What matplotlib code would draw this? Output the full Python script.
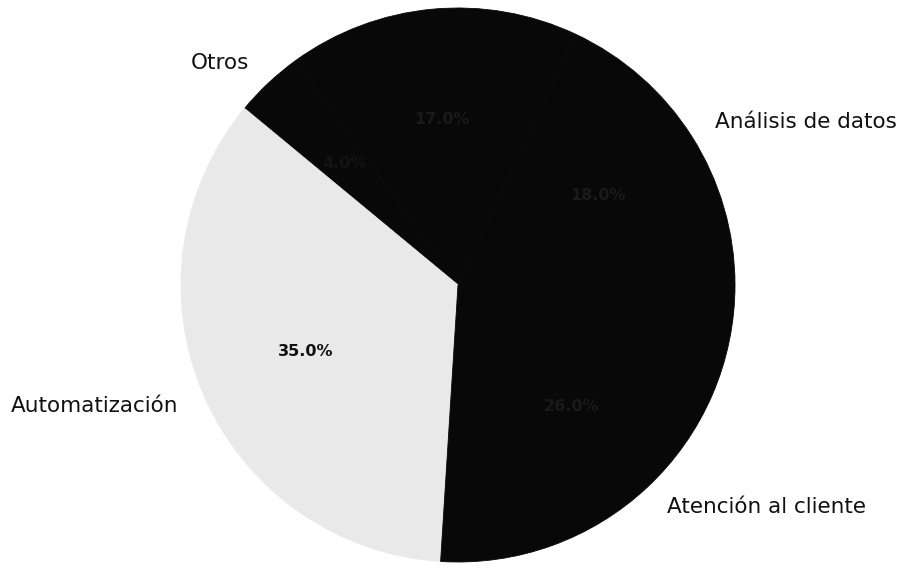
import matplotlib
matplotlib.use("Agg")
import matplotlib.pyplot as plt

# slice data, counter-clockwise from 3 o'clock (matplotlib default start)
categories = ['Análisis de datos', '', 'Otros', 'Automatización', 'Atención al cliente']
shares = [18, 17, 4, 35, 26]
slice_colors = ['#080808', '#080808', '#080808', '#e9e9e9', '#080808']
pct_colors = ['#1a1a1a', '#1a1a1a', '#131313', '#111111', '#1a1a1a']

fig = plt.figure(figsize=(9.08, 5.72), dpi=100)
ax = fig.add_axes([0, 0, 1, 1])

wedges, texts, autotexts = ax.pie(
    shares,
    labels=categories,
    colors=slice_colors,
    autopct='%1.1f%%',
    startangle=0,
    labeldistance=1.1,
    pctdistance=0.6,
    textprops={'fontsize': 15.5, 'color': '#111111'},
)

# hide the seams between the dark slices
for w, c in zip(wedges, slice_colors):
    w.set_edgecolor(c)
    w.set_linewidth(0.6)

for t, c in zip(autotexts, pct_colors):
    t.set_color(c)
    t.set_fontsize(11.5)
    t.set_fontweight('bold')

# pie centre at (458, 285) px, radius 277 px
ax.set_aspect('auto')
ax.set_xlim(-458 / 277, (908 - 458) / 277)
ax.set_ylim(-(572 - 285) / 277, 285 / 277)
ax.axis('off')

fig.savefig('out.png', dpi=100, facecolor='white')
